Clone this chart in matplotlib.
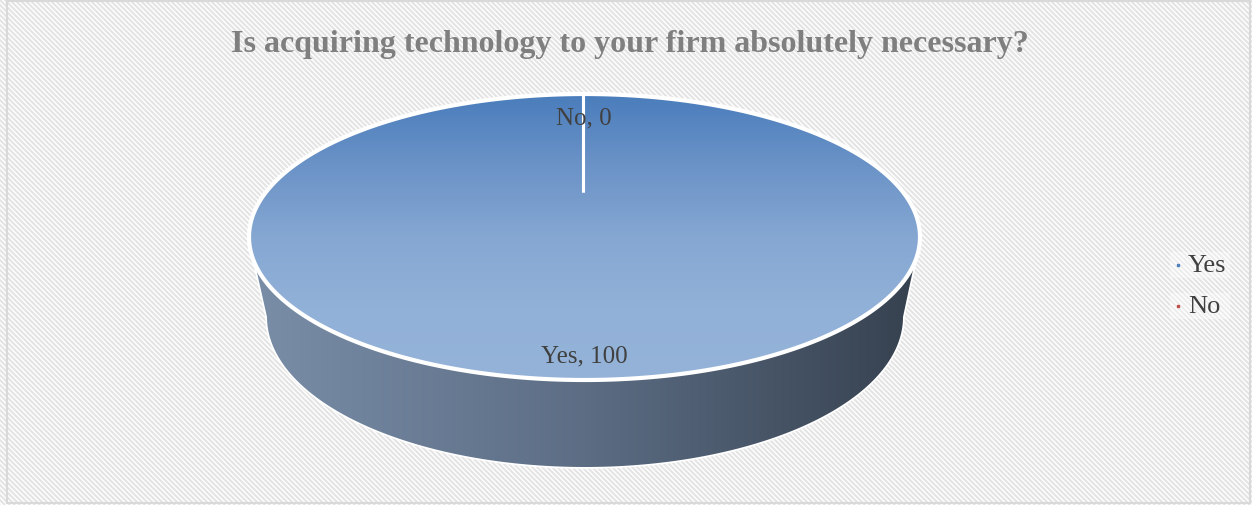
import numpy as np
import matplotlib
matplotlib.use("Agg")
import matplotlib.pyplot as plt
from matplotlib.patches import Polygon, Rectangle
from matplotlib.collections import LineCollection
from matplotlib.colors import LinearSegmentedColormap

# survey answers
categories = ["Yes", "No"]
values = [100, 0]
legend_colors = ["#4f81bd", "#c0504d"]
title = "Is acquiring technology to your firm absolutely necessary?"

W, H = 1252, 506
plt.rcParams["font.family"] = ["Liberation Serif", "DejaVu Serif"]

fig = plt.figure(figsize=(W / 100, H / 100), dpi=100)
ax = fig.add_axes([0, 0, 1, 1])
ax.set_xlim(0, W)
ax.set_ylim(H, 0)
ax.axis("off")

# --- hatched chart-area background -------------------------------------
ax.add_patch(Rectangle((0, 0), W, H, facecolor="white", edgecolor="none", zorder=0))
segs = []
step = 5.0
for c in np.arange(-H, W + H, step):
    segs.append([(c, 0), (c + H, H)])
ax.add_collection(LineCollection(segs, colors="#e4e4e4", linewidths=1.5, zorder=0.5))
ax.add_patch(Rectangle((7, 2), 1243, 502, facecolor="none", edgecolor="#d9d9d9",
                       linewidth=1.5, zorder=5))

# --- 3D pie geometry ---------------------------------------------------
cx, cy, a, b = 584.5, 238.0, 335.5, 143.0       # top face
cx2, cy2, a2, b2 = 585.0, 318.0, 318.0, 150.0   # bottom rim (perspective)
hub = (583.0, 193.0)                             # projected centre of top face

t = np.linspace(0, np.pi, 300)
top_lower = np.column_stack([cx - a * np.cos(t), cy + b * np.sin(t)])
bot_lower = np.column_stack([cx2 - a2 * np.cos(t), cy2 + b2 * np.sin(t)])
side_pts = np.vstack([top_lower, bot_lower[::-1]])

side = Polygon(side_pts, closed=True, facecolor="none", edgecolor="white",
               linewidth=2.5, zorder=2)
ax.add_patch(side)
side_cmap = LinearSegmentedColormap.from_list("side", ["#7a8ea8", "#5c6d84", "#36414f"])
grad = np.linspace(0, 1, 256).reshape(1, -1)
im = ax.imshow(grad, cmap=side_cmap, extent=(cx - a, cx + a, cy2 + b2, cy),
               aspect="auto", zorder=2, interpolation="bilinear")
im.set_clip_path(side)

tt = np.linspace(0, 2 * np.pi, 600)
top_pts = np.column_stack([cx + a * np.cos(tt), cy + b * np.sin(tt)])
top = Polygon(top_pts, closed=True, facecolor="none", edgecolor="white",
              linewidth=3, zorder=3.5)
ax.add_patch(top)
top_cmap = LinearSegmentedColormap.from_list(
    "top", ["#4a7dbc", "#6b93c7", "#85a7d2", "#92b1d8", "#95b3d8"])
vgrad = np.linspace(0, 1, 256).reshape(-1, 1)
im2 = ax.imshow(vgrad, cmap=top_cmap, extent=(cx - a, cx + a, cy + b, cy - b),
                aspect="auto", zorder=3, interpolation="bilinear")
im2.set_clip_path(top)

# slice boundaries and data labels
total = float(sum(values))
start = 90.0
cum = 0.0
label_frac = {"Yes": 0.87, "No": 0.76}
for name, v in zip(categories, values):
    ang0 = np.deg2rad(start - 360 * cum / total)
    ex, ey = cx + a * np.cos(ang0), cy - b * np.sin(ang0)
    if abs(np.cos(ang0)) < 1e-6:
        ex = hub[0]
    ax.plot([hub[0], ex], [hub[1], ey],
            color="white", linewidth=2.2, zorder=4, solid_capstyle="butt")
    mid = np.deg2rad(start - 360 * (cum + v / 2) / total)
    mx, my = cx + a * np.cos(mid), cy - b * np.sin(mid)
    f = label_frac[name]
    lx = hub[0] + f * (mx - hub[0])
    ly = hub[1] + f * (my - hub[1])
    ax.text(lx, ly, f"{name}, {v}", ha="center", va="center", fontsize=18,
            color="#404040", zorder=6)
    cum += v

# legend
for i, (name, col) in enumerate(zip(categories, legend_colors)):
    y = 266 + i * 41
    ax.add_patch(Rectangle((1170, y - 13), 60, 26, facecolor="white", alpha=0.35,
                           edgecolor="none", zorder=5))
    ax.plot(1178, y, marker="s", markersize=2, color=col, zorder=6)
    ax.text(1188, y, name, ha="left", va="center", fontsize=19, color="#404040",
            zorder=6)

ax.text(630, 44, title, ha="center", va="center", fontsize=23, fontweight="bold",
        color="#7f7f7f", zorder=6)

fig.savefig("out.png", dpi=100)
